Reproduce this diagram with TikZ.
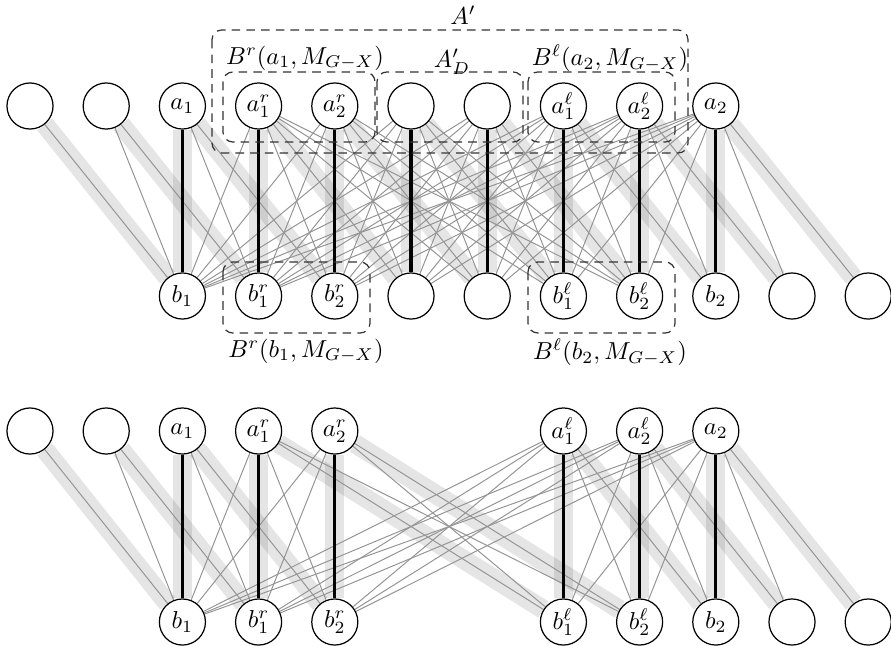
\documentclass[tikz,border=0pt]{standalone}
\pgfdeclarelayer{edges}
\pgfsetlayers{edges,main}
\newcommand\toplab[1]{\ifcase#1 \or \or $a_1$\or $a^r_1$\or $a^r_2$\or \or \or $a^\ell_1$\or $a^\ell_2$\or $a_2$\fi}
\newcommand\botlab[1]{\ifcase#1 \or \or $b_1$\or $b^r_1$\or $b^r_2$\or \or \or $b^\ell_1$\or $b^\ell_2$\or $b_2$\or \or \fi}
\begin{document}
\begin{tikzpicture}[x=0.408pt,y=-0.408pt,
  vtx/.style={circle,draw,fill=white,minimum size=18.8pt,inner sep=0pt,line width=0.5pt},
  mband/.style={line width=7.8pt,black,opacity=0.1},
  gedge/.style={line width=0.4pt,black!42},
  medge/.style={line width=1.3pt,black},
  grp/.style={draw=black!80,dash pattern=on 3.5pt off 2.5pt,rounded corners=4pt,line width=0.5pt}]
\useasboundingbox (0,0) rectangle (891,645);

% ---------- upper graph G ----------
\foreach \i in {0,...,9}
  \node[vtx] (A\i) at ({30+76.2*\i},106) {\toplab{\i}};
\foreach \i in {2,...,11}
  \node[vtx] (B\i) at ({30+76.2*\i},296) {\botlab{\i}};

\begin{pgfonlayer}{edges}
  % second matching, shifted by two
  \foreach \i in {0,...,9} {
    \pgfmathtruncatemacro\j{\i+2}
    \draw[mband] (A\i) -- (B\j);
  }
  \foreach \i in {2,...,9} \draw[mband] (A\i) -- (B\i);
  % edges of G
  \foreach \i/\j in {0/2,1/2,1/3,8/10,9/10,9/11} \draw[gedge] (A\i) -- (B\j);
  \foreach \i in {2,3,4} \foreach \j in {2,3,4} \draw[gedge] (A\i) -- (B\j);
  \foreach \i in {3,4,5,6} \foreach \j in {5,6,7,8} \draw[gedge] (A\i) -- (B\j);
  \foreach \i in {5,6,7,8,9} \foreach \j in {2,3,4} \draw[gedge] (A\i) -- (B\j);
  \foreach \i in {7,8,9} \foreach \j in {5,6,7,8,9} \draw[gedge] (A\i) -- (B\j);
  % matching M
  \foreach \i in {2,...,9} \draw[medge] (A\i) -- (B\i);
\end{pgfonlayer}

% groups
\draw[grp] (212,30) rectangle (688,153);
\draw[grp] (223,72) rectangle (375,142);
\draw[grp] (377,72) rectangle (523,142);
\draw[grp] (528,72) rectangle (675,142);
\draw[grp] (223,262) rectangle (370,333);
\draw[grp] (528,262) rectangle (675,333);

\node (lA)  at (463,15)  {$A'$};
\node (lAD) at (452,62)  {$A'_D$};
\node (lBa) at (305,58)  {$B^r(a_1,M_{G-X})$};
\node (lBb) at (610,58)  {$B^\ell(a_2,M_{G-X})$};
\node (lBc) at (306,351) {$B^r(b_1,M_{G-X})$};
\node (lBd) at (610,352) {$B^\ell(b_2,M_{G-X})$};

% ---------- lower graph G - X ----------
\foreach \i in {0,1,2,3,4,7,8,9}
  \node[vtx] (C\i) at ({30+76.2*\i},431) {\toplab{\i}};
\foreach \i in {2,3,4,7,8,9,10,11}
  \node[vtx] (D\i) at ({30+76.2*\i},622) {\botlab{\i}};

\begin{pgfonlayer}{edges}
  \foreach \i/\j in {0/2,1/3,2/4,3/7,4/8,7/9,8/10,9/11} \draw[mband] (C\i) -- (D\j);
  \foreach \i in {2,3,4,7,8,9} \draw[mband] (C\i) -- (D\i);
  \foreach \i/\j in {0/2,1/2,1/3,8/10,9/10,9/11} \draw[gedge] (C\i) -- (D\j);
  \foreach \i in {2,3,4} \foreach \j in {2,3,4} \draw[gedge] (C\i) -- (D\j);
  \foreach \i in {3,4} \foreach \j in {7,8} \draw[gedge] (C\i) -- (D\j);
  \foreach \i in {7,8,9} \foreach \j in {2,3,4,7,8,9} \draw[gedge] (C\i) -- (D\j);
  \foreach \i in {2,3,4,7,8,9} \draw[medge] (C\i) -- (D\i);
\end{pgfonlayer}
\end{tikzpicture}
\end{document}
